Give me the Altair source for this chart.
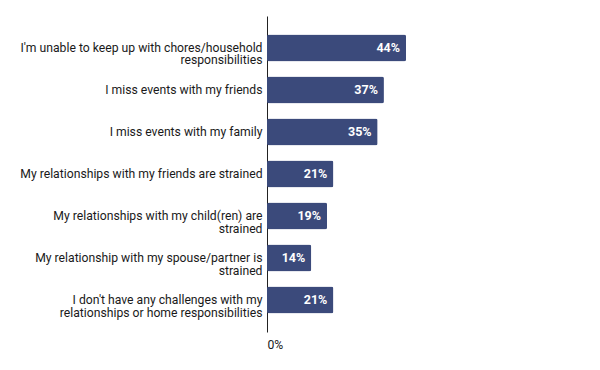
import altair as alt
import pandas as pd

categories = [
    "I'm unable to keep up with chores/household|responsibilities",
    "I miss events with my friends",
    "I miss events with my family",
    "My relationships with my friends are strained",
    "My relationships with my child(ren) are|strained",
    "My relationship with my spouse/partner is|strained",
    "I don't have any challenges with my|relationships or home responsibilities",
]
values = [44, 37, 35, 21, 19, 14, 21]

df = pd.DataFrame({"cat": categories, "val": values})
df["lbl"] = df["val"].astype(str) + "%"

FONT = "Roboto"
COLOR = "#3b4a7b"

y_enc = alt.Y(
    "cat:N",
    sort=categories,
    title=None,
    scale=alt.Scale(paddingInner=0.36, paddingOuter=0.44),
    axis=alt.Axis(
        labelExpr="split(datum.label, '|')",
        labelFontSize=12.2,
        labelFont=FONT,
        labelColor="#1a1a1a",
        labelLineHeight=12.5,
        labelPadding=5,
        ticks=False,
        domainColor="#222222",
        domainWidth=1,
        labelLimit=400,
    ),
)

x_enc = alt.X(
    "val:Q",
    title=None,
    scale=alt.Scale(domain=[0, 100]),
    axis=alt.Axis(
        values=[0],
        format="d",
        labelExpr="datum.value + '%'",
        grid=False,
        ticks=False,
        domain=False,
        labelFont=FONT,
        labelFontSize=12.2,
        labelColor="#1a1a1a",
        labelPadding=6,
    ),
)

bars = alt.Chart(df).mark_bar(color=COLOR, cornerRadius=2).encode(y=y_enc, x=x_enc)

text = alt.Chart(df).mark_text(
    align="right", baseline="middle", dx=-6, color="white", fontWeight="bold",
    font=FONT, fontSize=12.5
).encode(y=alt.Y("cat:N", sort=categories), x="val:Q", text="lbl:N")

chart = (bars + text).properties(
    width=316, height=316, padding={"left": 11, "top": 8, "right": 5, "bottom": 5}
).configure_view(stroke=None)

chart.save("out.html", embed_options={"renderer": "svg", "actions": False})
